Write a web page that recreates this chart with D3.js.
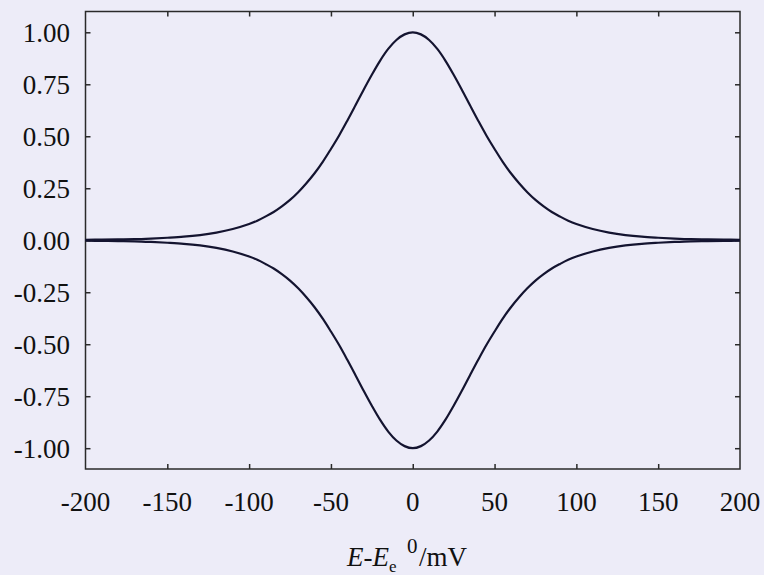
<!DOCTYPE html>
<html>
<head>
<meta charset="utf-8">
<script src="https://cdn.jsdelivr.net/npm/d3@7"></script>
<style>
  html, body { margin: 0; padding: 0; background: #edecf8; }
  svg { display: block; font-family: "Liberation Serif", "Times New Roman", serif; }
  .tick-label { font-size: 27px; fill: #111; }
  .frame { fill: none; stroke: #2a2a2a; stroke-width: 1.5; }
  .curve { fill: none; stroke: #141430; stroke-width: 2.2; }
</style>
</head>
<body>
<div id="chart"></div>
<script>
// potential E - E0 (mV) and normalized current
const potentials = [-200, -190, -180, -170, -160, -150, -140, -130, -120, -110,
  -100, -95, -90, -85, -80, -75, -70, -65, -60, -55, -50, -45, -40, -35, -30,
  -25, -20, -15, -10, -5, 0, 5, 10, 15, 20, 25, 30, 35, 40, 45, 50, 55, 60,
  65, 70, 75, 80, 85, 90, 95, 100, 110, 120, 130, 140, 150, 160, 170, 180,
  190, 200];
const anodic = [0.002, 0.003, 0.004, 0.005, 0.008, 0.012, 0.017, 0.025, 0.037,
  0.054, 0.078, 0.094, 0.114, 0.136, 0.163, 0.194, 0.231, 0.274, 0.322, 0.377,
  0.439, 0.504, 0.575, 0.649, 0.724, 0.796, 0.863, 0.920, 0.963, 0.990, 1.000,
  0.990, 0.963, 0.920, 0.863, 0.796, 0.724, 0.649, 0.575, 0.504, 0.439, 0.377,
  0.322, 0.274, 0.231, 0.194, 0.163, 0.136, 0.114, 0.094, 0.078, 0.054, 0.037,
  0.025, 0.017, 0.012, 0.008, 0.005, 0.004, 0.003, 0.002];
const cathodic = [-0.002, -0.003, -0.004, -0.005, -0.008, -0.012, -0.017,
  -0.025, -0.037, -0.054, -0.078, -0.094, -0.114, -0.136, -0.163, -0.194,
  -0.231, -0.274, -0.322, -0.377, -0.439, -0.504, -0.575, -0.649, -0.724,
  -0.796, -0.863, -0.920, -0.963, -0.990, -1.000, -0.990, -0.963, -0.920,
  -0.863, -0.796, -0.724, -0.649, -0.575, -0.504, -0.439, -0.377, -0.322,
  -0.274, -0.231, -0.194, -0.163, -0.136, -0.114, -0.094, -0.078, -0.054,
  -0.037, -0.025, -0.017, -0.012, -0.008, -0.005, -0.004, -0.003, -0.002];

const xTicks = [-200, -150, -100, -50, 0, 50, 100, 150, 200];
const yTicks = [1.00, 0.75, 0.50, 0.25, 0.00, -0.25, -0.50, -0.75, -1.00];

const width = 764, height = 575;
const margin = {top: 11.5, right: 24, bottom: 106, left: 85.5};
const tickLen = 5;

const svg = d3.select("#chart").append("svg")
    .attr("width", width)
    .attr("height", height);

const x = d3.scaleLinear()
    .domain([-200, 200])
    .range([margin.left, width - margin.right]);

const y = d3.scaleLinear()
    .domain([-1.1, 1.1])
    .range([height - margin.bottom, margin.top]);

// plot frame
svg.append("rect")
    .attr("class", "frame")
    .attr("x", x(-200))
    .attr("y", y(1.1))
    .attr("width", x(200) - x(-200))
    .attr("height", y(-1.1) - y(1.1));

// inward ticks on all four sides
const tickStyle = g => g.call(s => s.select(".domain").remove())
    .call(s => s.selectAll(".tick line").attr("stroke", "#2a2a2a").attr("stroke-width", 1.5))
    .call(s => s.selectAll(".tick text").remove());

svg.append("g")
    .attr("transform", `translate(0,${y(-1.1)})`)
    .call(d3.axisBottom(x).tickValues(xTicks.slice(1, -1)).tickSizeInner(-tickLen).tickSizeOuter(0))
    .call(tickStyle);
svg.append("g")
    .attr("transform", `translate(0,${y(1.1)})`)
    .call(d3.axisTop(x).tickValues(xTicks.slice(1, -1)).tickSizeInner(-tickLen).tickSizeOuter(0))
    .call(tickStyle);
svg.append("g")
    .attr("transform", `translate(${x(-200)},0)`)
    .call(d3.axisLeft(y).tickValues(yTicks).tickSizeInner(-tickLen).tickSizeOuter(0))
    .call(tickStyle);
svg.append("g")
    .attr("transform", `translate(${x(200)},0)`)
    .call(d3.axisRight(y).tickValues(yTicks).tickSizeInner(-tickLen).tickSizeOuter(0))
    .call(tickStyle);

// tick labels
svg.selectAll(".x-label")
    .data(xTicks)
    .enter().append("text")
    .attr("class", "tick-label x-label")
    .attr("x", d => x(d))
    .attr("y", 511)
    .attr("text-anchor", "middle")
    .text(d => d);

svg.selectAll(".y-label")
    .data(yTicks)
    .enter().append("text")
    .attr("class", "tick-label y-label")
    .attr("x", 70)
    .attr("y", d => y(d) + 10)
    .attr("text-anchor", "end")
    .text(d => d3.format(".2f")(d).replace("−", "-"));

// curves
const line = d3.line()
    .x((d, i) => x(potentials[i]))
    .y(d => y(d))
    .curve(d3.curveCatmullRom);

svg.append("path").attr("class", "curve").attr("d", line(anodic));
svg.append("path").attr("class", "curve").attr("d", line(cathodic));

// axis title: E-Ee0/mV
const title = svg.append("text")
    .attr("class", "tick-label")
    .attr("x", 347)
    .attr("y", 566);
title.append("tspan").attr("font-style", "italic").text("E");
title.append("tspan").text("-");
title.append("tspan").attr("font-style", "italic").text("E");
title.append("tspan").attr("font-size", 17).attr("dy", 6).text("e");
title.append("tspan").attr("font-size", 21).attr("x", 407).attr("dy", -19).text("0");
title.append("tspan").attr("x", 419).attr("dy", 13).text("/mV");
</script>
</body>
</html>
